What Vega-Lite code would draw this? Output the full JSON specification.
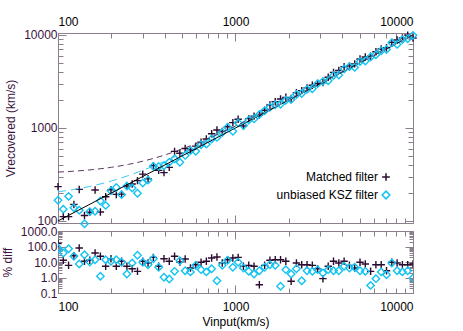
{
"$schema": "https://vega.github.io/schema/vega-lite/v6.json",
"padding": {"left": 1, "top": 12, "right": 5, "bottom": 3},
"background": "white",
"spacing": -15,
"config": {
  "view": {"stroke": null},
  "font": "Liberation Sans",
  "axis": {"grid": false, "minExtent": 0, "domainColor": "#8c7f8c", "tickColor": "#8c7f8c", "labelFont": "Liberation Sans", "labelFontSize": 12, "titleFont": "Liberation Sans", "titleFontSize": 12, "titleFontWeight": "normal", "labelOverlap": false, "tickWidth": 1, "domainWidth": 1}
},
"datasets": {
"lines": [
{"curve":"unity","vin":100,"vout":100},{"curve":"unity","vin":10000,"vout":10000},
{"curve":"mf","vin":100,"vout":335.3},{"curve":"mf","vin":120,"vout":341.8},{"curve":"mf","vin":150,"vout":353.4},{"curve":"mf","vin":200,"vout":377.4},{"curve":"mf","vin":250,"vout":406.1},{"curve":"mf","vin":300,"vout":438.6},{"curve":"mf","vin":400,"vout":512.2},{"curve":"mf","vin":500,"vout":593.6},{"curve":"mf","vin":700,"vout":769.7},{"curve":"mf","vin":1000,"vout":1050},{"curve":"mf","vin":1500,"vout":1533.8},{"curve":"mf","vin":2000,"vout":2025.4},{"curve":"mf","vin":3000,"vout":3017},{"curve":"mf","vin":5000,"vout":5010.2},{"curve":"mf","vin":10000,"vout":10005.1},
{"curve":"kf","vin":100,"vout":205.9},{"curve":"kf","vin":120,"vout":216.3},{"curve":"kf","vin":150,"vout":234.3},{"curve":"kf","vin":200,"vout":269.1},{"curve":"kf","vin":250,"vout":308.1},{"curve":"kf","vin":300,"vout":349.9},{"curve":"kf","vin":400,"vout":438.6},{"curve":"kf","vin":500,"vout":531.4},{"curve":"kf","vin":700,"vout":722.8},{"curve":"kf","vin":1000,"vout":1016.1},{"curve":"kf","vin":1500,"vout":1510.8},{"curve":"kf","vin":2000,"vout":2008.1},{"curve":"kf","vin":3000,"vout":3005.4},{"curve":"kf","vin":5000,"vout":5003.2},{"curve":"kf","vin":10000,"vout":10001.6}
],
"pts": [
{"filter":"Matched filter","vin":100,"vrec":233.8,"pct":156},
{"filter":"Matched filter","vin":107.1,"vrec":111.2,"pct":12.9},
{"filter":"Matched filter","vin":114.7,"vrec":111.2,"pct":6.1},
{"filter":"Matched filter","vin":122.9,"vrec":150.5,"pct":25.5},
{"filter":"Matched filter","vin":131.7,"vrec":218.2,"pct":80},
{"filter":"Matched filter","vin":141.0,"vrec":114.6,"pct":11.1},
{"filter":"Matched filter","vin":151.0,"vrec":124.0,"pct":12.9},
{"filter":"Matched filter","vin":161.8,"vrec":215.4,"pct":38},
{"filter":"Matched filter","vin":173.3,"vrec":124.9,"pct":23.3},
{"filter":"Matched filter","vin":185.6,"vrec":182.1,"pct":5.3},
{"filter":"Matched filter","vin":198.8,"vrec":216.5,"pct":16.3},
{"filter":"Matched filter","vin":213.0,"vrec":192.8,"pct":5.3},
{"filter":"Matched filter","vin":228.1,"vrec":194.2,"pct":11.1},
{"filter":"Matched filter","vin":244.4,"vrec":237.8,"pct":5.3},
{"filter":"Matched filter","vin":261.8,"vrec":249.9,"pct":3.7},
{"filter":"Matched filter","vin":280.4,"vrec":271.2,"pct":2.5},
{"filter":"Matched filter","vin":300.3,"vrec":318.6,"pct":11.1},
{"filter":"Matched filter","vin":321.7,"vrec":284.3,"pct":8.6},
{"filter":"Matched filter","vin":344.6,"vrec":392.3,"pct":20},
{"filter":"Matched filter","vin":369.1,"vrec":349.5,"pct":5.3},
{"filter":"Matched filter","vin":395.4,"vrec":330.9,"pct":16.3},
{"filter":"Matched filter","vin":423.5,"vrec":376.5,"pct":11.1},
{"filter":"Matched filter","vin":453.6,"vrec":559.3,"pct":23.3},
{"filter":"Matched filter","vin":485.9,"vrec":534.5,"pct":10},
{"filter":"Matched filter","vin":520.5,"vrec":601.7,"pct":15.6},
{"filter":"Matched filter","vin":557.5,"vrec":580.4,"pct":4.1},
{"filter":"Matched filter","vin":597.2,"vrec":637.2,"pct":6.7},
{"filter":"Matched filter","vin":639.7,"vrec":701.1,"pct":9.6},
{"filter":"Matched filter","vin":685.2,"vrec":761.2,"pct":11.1},
{"filter":"Matched filter","vin":733.9,"vrec":866.8,"pct":18.1},
{"filter":"Matched filter","vin":786.2,"vrec":951.2,"pct":21},
{"filter":"Matched filter","vin":842.1,"vrec":914.5,"pct":8.6},
{"filter":"Matched filter","vin":902.0,"vrec":1029.2,"pct":14.1},
{"filter":"Matched filter","vin":966.2,"vrec":1141.1,"pct":18.1},
{"filter":"Matched filter","vin":1034.9,"vrec":1241.9,"pct":20},
{"filter":"Matched filter","vin":1108.6,"vrec":1049.8,"pct":5.3},
{"filter":"Matched filter","vin":1187.5,"vrec":1259.9,"pct":6.1},
{"filter":"Matched filter","vin":1272.0,"vrec":1339.4,"pct":5.3},
{"filter":"Matched filter","vin":1362.5,"vrec":1367.1,"pct":0.34},
{"filter":"Matched filter","vin":1459.4,"vrec":1548.4,"pct":6.1},
{"filter":"Matched filter","vin":1563.2,"vrec":1764.8,"pct":12.9},
{"filter":"Matched filter","vin":1674.5,"vrec":1910.6,"pct":14.1},
{"filter":"Matched filter","vin":1793.6,"vrec":2046.5,"pct":14.1},
{"filter":"Matched filter","vin":1921.2,"vrec":2134.5,"pct":11.1},
{"filter":"Matched filter","vin":2057.9,"vrec":2069.6,"pct":0.57},
{"filter":"Matched filter","vin":2204.4,"vrec":2394.0,"pct":8.6},
{"filter":"Matched filter","vin":2361.2,"vrec":2519.4,"pct":6.7},
{"filter":"Matched filter","vin":2529.2,"vrec":2698.7,"pct":6.7},
{"filter":"Matched filter","vin":2709.2,"vrec":2874.4,"pct":6.1},
{"filter":"Matched filter","vin":2901.9,"vrec":3009.3,"pct":3.7},
{"filter":"Matched filter","vin":3108.4,"vrec":3082.3,"pct":0.84},
{"filter":"Matched filter","vin":3329.6,"vrec":3506.1,"pct":5.3},
{"filter":"Matched filter","vin":3566.5,"vrec":3962.4,"pct":11.1},
{"filter":"Matched filter","vin":3820.3,"vrec":4148.8,"pct":8.6},
{"filter":"Matched filter","vin":4092.1,"vrec":4546.3,"pct":11.1},
{"filter":"Matched filter","vin":4383.2,"vrec":4650.6,"pct":6.1},
{"filter":"Matched filter","vin":4695.1,"vrec":4887.6,"pct":4.1},
{"filter":"Matched filter","vin":5029.2,"vrec":5512.0,"pct":9.6},
{"filter":"Matched filter","vin":5387.0,"vrec":5785.6,"pct":7.4},
{"filter":"Matched filter","vin":5770.3,"vrec":5914.6,"pct":2.5},
{"filter":"Matched filter","vin":6180.9,"vrec":6595.0,"pct":6.7},
{"filter":"Matched filter","vin":6620.7,"vrec":7064.3,"pct":6.7},
{"filter":"Matched filter","vin":7091.8,"vrec":7283.3,"pct":2.7},
{"filter":"Matched filter","vin":7596.3,"vrec":8325.5,"pct":9.6},
{"filter":"Matched filter","vin":8136.8,"vrec":8836.6,"pct":8.6},
{"filter":"Matched filter","vin":8715.7,"vrec":9299.7,"pct":6.7},
{"filter":"Matched filter","vin":9335.9,"vrec":9961.4,"pct":6.7},
{"filter":"Matched filter","vin":10000,"vrec":9260,"pct":7.4},
{"filter":"unbiased KSZ filter","vin":100,"vrec":167.0,"pct":80},
{"filter":"unbiased KSZ filter","vin":107.1,"vrec":133.9,"pct":38},
{"filter":"unbiased KSZ filter","vin":114.7,"vrec":183.8,"pct":72},
{"filter":"unbiased KSZ filter","vin":122.9,"vrec":138.7,"pct":23.3},
{"filter":"unbiased KSZ filter","vin":131.7,"vrec":130.3,"pct":7.4},
{"filter":"unbiased KSZ filter","vin":141.0,"vrec":93.3,"pct":29.6},
{"filter":"unbiased KSZ filter","vin":151.0,"vrec":125.9,"pct":10},
{"filter":"unbiased KSZ filter","vin":161.8,"vrec":127.2,"pct":14.1},
{"filter":"unbiased KSZ filter","vin":173.3,"vrec":164.1,"pct":1.2},
{"filter":"unbiased KSZ filter","vin":185.6,"vrec":146.8,"pct":14.1},
{"filter":"unbiased KSZ filter","vin":198.8,"vrec":211.2,"pct":11.1},
{"filter":"unbiased KSZ filter","vin":213.0,"vrec":229.2,"pct":14.1},
{"filter":"unbiased KSZ filter","vin":228.1,"vrec":191.8,"pct":9.6},
{"filter":"unbiased KSZ filter","vin":244.4,"vrec":237.8,"pct":1.7},
{"filter":"unbiased KSZ filter","vin":261.8,"vrec":226.4,"pct":8.6},
{"filter":"unbiased KSZ filter","vin":280.4,"vrec":198.6,"pct":27},
{"filter":"unbiased KSZ filter","vin":300.3,"vrec":256.2,"pct":9.6},
{"filter":"unbiased KSZ filter","vin":321.7,"vrec":276.0,"pct":6.7},
{"filter":"unbiased KSZ filter","vin":344.6,"vrec":387.5,"pct":16.3},
{"filter":"unbiased KSZ filter","vin":369.1,"vrec":386.1,"pct":4.6},
{"filter":"unbiased KSZ filter","vin":395.4,"vrec":391.3,"pct":1.03},
{"filter":"unbiased KSZ filter","vin":423.5,"vrec":426.9,"pct":0.8},
{"filter":"unbiased KSZ filter","vin":453.6,"vrec":465.0,"pct":2.5},
{"filter":"unbiased KSZ filter","vin":485.9,"vrec":427.1,"pct":12.1},
{"filter":"unbiased KSZ filter","vin":520.5,"vrec":506.4,"pct":2.7},
{"filter":"unbiased KSZ filter","vin":557.5,"vrec":570.3,"pct":2.3},
{"filter":"unbiased KSZ filter","vin":597.2,"vrec":560.8,"pct":6.1},
{"filter":"unbiased KSZ filter","vin":639.7,"vrec":660.1,"pct":3.2},
{"filter":"unbiased KSZ filter","vin":685.2,"vrec":669.4,"pct":2.3},
{"filter":"unbiased KSZ filter","vin":733.9,"vrec":761.1,"pct":3.7},
{"filter":"unbiased KSZ filter","vin":786.2,"vrec":791.0,"pct":0.62},
{"filter":"unbiased KSZ filter","vin":842.1,"vrec":893.5,"pct":6.1},
{"filter":"unbiased KSZ filter","vin":902.0,"vrec":1018.4,"pct":12.9},
{"filter":"unbiased KSZ filter","vin":966.2,"vrec":921.8,"pct":4.6},
{"filter":"unbiased KSZ filter","vin":1034.9,"vrec":1134.3,"pct":9.6},
{"filter":"unbiased KSZ filter","vin":1108.6,"vrec":1063.1,"pct":4.1},
{"filter":"unbiased KSZ filter","vin":1187.5,"vrec":1217.2,"pct":2.5},
{"filter":"unbiased KSZ filter","vin":1272.0,"vrec":1250.4,"pct":1.7},
{"filter":"unbiased KSZ filter","vin":1362.5,"vrec":1399.3,"pct":2.7},
{"filter":"unbiased KSZ filter","vin":1459.4,"vrec":1526.5,"pct":4.6},
{"filter":"unbiased KSZ filter","vin":1563.2,"vrec":1667.9,"pct":6.7},
{"filter":"unbiased KSZ filter","vin":1674.5,"vrec":1776.6,"pct":6.1},
{"filter":"unbiased KSZ filter","vin":1793.6,"vrec":1798.4,"pct":0.27},
{"filter":"unbiased KSZ filter","vin":1921.2,"vrec":1982.7,"pct":3.2},
{"filter":"unbiased KSZ filter","vin":2057.9,"vrec":2022.9,"pct":1.7},
{"filter":"unbiased KSZ filter","vin":2204.4,"vrec":2286.0,"pct":3.7},
{"filter":"unbiased KSZ filter","vin":2361.2,"vrec":2346.6,"pct":0.62},
{"filter":"unbiased KSZ filter","vin":2529.2,"vrec":2597.5,"pct":2.7},
{"filter":"unbiased KSZ filter","vin":2709.2,"vrec":2641.5,"pct":2.5},
{"filter":"unbiased KSZ filter","vin":2901.9,"vrec":2994.8,"pct":3.2},
{"filter":"unbiased KSZ filter","vin":3108.4,"vrec":3169.0,"pct":1.95},
{"filter":"unbiased KSZ filter","vin":3329.6,"vrec":3223.1,"pct":3.2},
{"filter":"unbiased KSZ filter","vin":3566.5,"vrec":3662.8,"pct":2.7},
{"filter":"unbiased KSZ filter","vin":3820.3,"vrec":3717.2,"pct":2.7},
{"filter":"unbiased KSZ filter","vin":4092.1,"vrec":4309.0,"pct":5.3},
{"filter":"unbiased KSZ filter","vin":4383.2,"vrec":4562.9,"pct":4.1},
{"filter":"unbiased KSZ filter","vin":4695.1,"vrec":4479.1,"pct":4.6},
{"filter":"unbiased KSZ filter","vin":5029.2,"vrec":5165.0,"pct":2.7},
{"filter":"unbiased KSZ filter","vin":5387.0,"vrec":5252.3,"pct":2.5},
{"filter":"unbiased KSZ filter","vin":5770.3,"vrec":5788.2,"pct":0.31},
{"filter":"unbiased KSZ filter","vin":6180.9,"vrec":6129.0,"pct":0.84},
{"filter":"unbiased KSZ filter","vin":6620.7,"vrec":6773.0,"pct":2.3},
{"filter":"unbiased KSZ filter","vin":7091.8,"vrec":6985.4,"pct":1.5},
{"filter":"unbiased KSZ filter","vin":7596.3,"vrec":8249.6,"pct":8.6},
{"filter":"unbiased KSZ filter","vin":8136.8,"vrec":7917.1,"pct":2.7},
{"filter":"unbiased KSZ filter","vin":8715.7,"vrec":8916.2,"pct":2.3},
{"filter":"unbiased KSZ filter","vin":9335.9,"vrec":9083.8,"pct":2.7},
{"filter":"unbiased KSZ filter","vin":10000,"vrec":9907.0,"pct":0.93}
]
},
"vconcat": [
{
  "width": 355, "height": 190,
  "resolve": {"axis": {"x": "independent", "y": "independent"}},
  "layer": [
    {
      "data": {"name": "pts"},
      "mark": {"type": "point", "filled": false, "strokeWidth": 1.4, "size": 55, "opacity": 1},
      "encoding": {
        "x": {"field": "vin", "type": "quantitative", "scale": {"type": "log", "domain": [100, 10000], "nice": false},
              "axis": {"orient": "top", "title": null, "values": [100,200,300,400,500,600,700,800,900,1000,2000,3000,4000,5000,6000,7000,8000,9000,10000],
                       "labelExpr": "indexof([100,1000,10000], datum.value) >= 0 ? format(datum.value, 'd') : ''",
                       "tickSize": {"condition": {"test": "indexof([100,1000,10000], datum.value) >= 0", "value": -8}, "value": -5},
                       "labelPadding": 13, "labelColor": "#000000"}},
        "y": {"field": "vrec", "type": "quantitative", "scale": {"type": "log", "domain": [95, 10500], "nice": false},
              "axis": {"orient": "left", "title": "Vrecovered (km/s)", "titleColor": "#3b1340", "titlePadding": 6,
                       "values": [100,200,300,400,500,600,700,800,900,1000,2000,3000,4000,5000,6000,7000,8000,9000,10000],
                       "labelExpr": "indexof([100,1000,10000], datum.value) >= 0 ? format(datum.value, 'd') : ''",
                       "tickSize": {"condition": {"test": "indexof([100,1000,10000], datum.value) >= 0", "value": -8}, "value": -5},
                       "labelPadding": 9, "labelColor": "#3b1340"}},
        "color": {"field": "filter", "type": "nominal", "scale": {"domain": ["Matched filter", "unbiased KSZ filter"], "range": ["#2b0b30", "#12c3f2"]},
                  "legend": {"orient": "none", "legendX": 322, "legendY": 138, "title": null, "labelAlign": "right", "labelOffset": -14, "labelFontSize": 12, "labelFont": "Liberation Sans", "labelColor": "#000000", "symbolSize": 60, "symbolStrokeWidth": 1.5, "rowPadding": 4}},
        "shape": {"field": "filter", "type": "nominal", "scale": {"domain": ["Matched filter", "unbiased KSZ filter"], "range": ["M-1,0L1,0M0,-1L0,1", "diamond"]}}
      }
    },
    {
      "data": {"name": "lines"},
      "transform": [{"filter": "datum.curve == 'unity'"}],
      "mark": {"type": "line", "color": "#000000", "strokeWidth": 1},
      "encoding": {
        "x": {"field": "vin", "type": "quantitative", "scale": {"type": "log", "domain": [100, 10000], "nice": false},
              "axis": {"orient": "bottom", "title": null, "labels": false, "values": [100,200,300,400,500,600,700,800,900,1000,2000,3000,4000,5000,6000,7000,8000,9000,10000],
                       "tickSize": {"condition": {"test": "indexof([100,1000,10000], datum.value) >= 0", "value": -8}, "value": -5}}},
        "y": {"field": "vout", "type": "quantitative", "scale": {"type": "log", "domain": [95, 10500], "nice": false},
              "axis": {"orient": "right", "title": null, "labels": false, "values": [100,200,300,400,500,600,700,800,900,1000,2000,3000,4000,5000,6000,7000,8000,9000,10000],
                       "tickSize": {"condition": {"test": "indexof([100,1000,10000], datum.value) >= 0", "value": -8}, "value": -5}}}
      }
    },
    {
      "data": {"name": "lines"},
      "transform": [{"filter": "datum.curve == 'mf'"}],
      "mark": {"type": "line", "color": "#5a3a5e", "strokeWidth": 1, "strokeDash": [6, 4], "interpolate": "monotone"},
      "encoding": {
        "x": {"field": "vin", "type": "quantitative", "axis": null},
        "y": {"field": "vout", "type": "quantitative", "axis": null}
      }
    },
    {
      "data": {"name": "lines"},
      "transform": [{"filter": "datum.curve == 'kf'"}],
      "mark": {"type": "line", "color": "#3cc8ee", "strokeWidth": 1, "strokeDash": [8, 5], "interpolate": "monotone"},
      "encoding": {
        "x": {"field": "vin", "type": "quantitative", "axis": null},
        "y": {"field": "vout", "type": "quantitative", "axis": null}
      }
    },
    {
      "mark": {"type": "text", "text": ["themal SZ only", "Planck"], "align": "left", "baseline": "middle", "fontSize": 12, "lineHeight": 17, "font": "Liberation Sans", "color": "#000000"},
      "encoding": {
        "x": {"datum": 149, "type": "quantitative", "axis": null},
        "y": {"datum": 5600, "type": "quantitative", "axis": null}
      }
    }
  ]
},
{
  "width": 355, "height": 62,
  "resolve": {"axis": {"x": "independent", "y": "independent"}},
  "layer": [
    {
      "data": {"name": "pts"},
      "mark": {"type": "point", "filled": false, "strokeWidth": 1.4, "size": 55, "opacity": 1, "clip": true},
      "encoding": {
        "x": {"field": "vin", "type": "quantitative", "scale": {"type": "log", "domain": [100, 10000], "nice": false},
              "axis": {"orient": "bottom", "title": "Vinput(km/s)", "titleColor": "#000000", "titlePadding": 1, "values": [100,200,300,400,500,600,700,800,900,1000,2000,3000,4000,5000,6000,7000,8000,9000,10000],
                       "labelExpr": "indexof([100,1000,10000], datum.value) >= 0 ? format(datum.value, 'd') : ''",
                       "tickSize": {"condition": {"test": "indexof([100,1000,10000], datum.value) >= 0", "value": -8}, "value": -5},
                       "labelPadding": 16, "labelColor": "#000000"}},
        "y": {"field": "pct", "type": "quantitative", "scale": {"type": "log", "domain": [0.1, 1000], "nice": false},
              "axis": {"orient": "left", "title": "% diff", "titleColor": "#3b1340", "titlePadding": 6,
                       "values": [0.1,0.2,0.3,0.4,0.5,0.6,0.7,0.8,0.9,1,2,3,4,5,6,7,8,9,10,20,30,40,50,60,70,80,90,100,200,300,400,500,600,700,800,900,1000],
                       "labelExpr": "indexof([0.1,1,10,100,1000], datum.value) >= 0 ? format(datum.value, '.1f') : ''",
                       "tickSize": {"condition": {"test": "indexof([0.1,1,10,100,1000], datum.value) >= 0", "value": -8}, "value": -4},
                       "labelPadding": 9, "labelColor": "#3b1340"}},
        "color": {"field": "filter", "type": "nominal", "scale": {"domain": ["Matched filter", "unbiased KSZ filter"], "range": ["#2b0b30", "#12c3f2"]}, "legend": null},
        "shape": {"field": "filter", "type": "nominal", "scale": {"domain": ["Matched filter", "unbiased KSZ filter"], "range": ["M-1,0L1,0M0,-1L0,1", "diamond"]}, "legend": null}
      }
    },
    {
      "data": {"name": "lines"},
      "transform": [{"filter": "datum.curve == 'unity'"}],
      "mark": {"type": "point", "opacity": 0},
      "encoding": {
        "x": {"field": "vin", "type": "quantitative", "scale": {"type": "log", "domain": [100, 10000], "nice": false},
              "axis": {"orient": "top", "title": null, "labels": false, "values": [100,200,300,400,500,600,700,800,900,1000,2000,3000,4000,5000,6000,7000,8000,9000,10000],
                       "tickSize": {"condition": {"test": "indexof([100,1000,10000], datum.value) >= 0", "value": -8}, "value": -5}}},
        "y": {"datum": 1, "type": "quantitative", "scale": {"type": "log", "domain": [0.1, 1000], "nice": false},
              "axis": {"orient": "right", "title": null, "labels": false, "values": [0.1,0.2,0.3,0.4,0.5,0.6,0.7,0.8,0.9,1,2,3,4,5,6,7,8,9,10,20,30,40,50,60,70,80,90,100,200,300,400,500,600,700,800,900,1000],
                       "tickSize": {"condition": {"test": "indexof([0.1,1,10,100,1000], datum.value) >= 0", "value": -8}, "value": -4}}}
      }
    }
  ]
}
]
}
